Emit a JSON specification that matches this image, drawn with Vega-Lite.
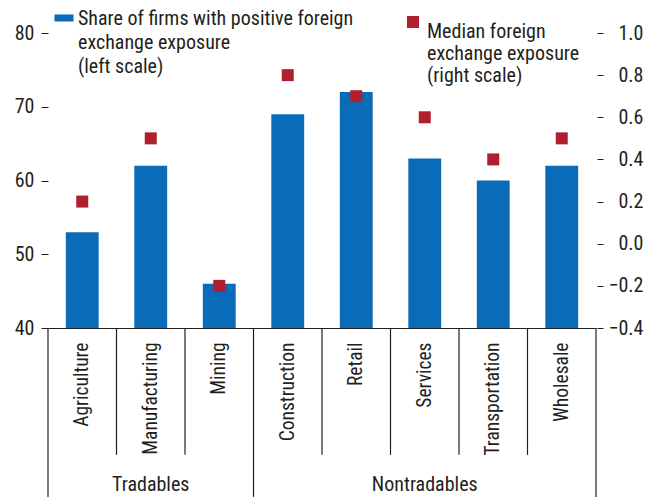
{
  "$schema": "https://vega.github.io/schema/vega-lite/v6.json",
  "width": 548,
  "height": 295,
  "autosize": {"type": "none"},
  "padding": {"left": 48, "top": 33, "right": 52, "bottom": 170},
  "background": "white",
  "config": {
    "font": "Liberation Sans Narrow, Roboto Condensed, Liberation Sans",
    "view": {"stroke": null},
    "axis": {"grid": false, "labelColor": "#231f20", "tickColor": "#231f20", "domainColor": "#231f20", "labelFontSize": 20, "labelFont": "Liberation Sans Narrow, Roboto Condensed, Liberation Sans"},
    "legend": {"labelFont": "Liberation Sans Narrow, Roboto Condensed, Liberation Sans", "labelFontSize": 20, "labelColor": "#231f20", "padding": 0, "labelLimit": 0}
  },
  "datasets": {
    "main": [
      {"sector": "Agriculture", "share": 53, "median": 0.2},
      {"sector": "Manufacturing", "share": 62, "median": 0.5},
      {"sector": "Mining", "share": 46, "median": -0.2},
      {"sector": "Construction", "share": 69, "median": 0.8},
      {"sector": "Retail", "share": 72, "median": 0.7},
      {"sector": "Services", "share": 63, "median": 0.6},
      {"sector": "Transportation", "share": 60, "median": 0.4},
      {"sector": "Wholesale", "share": 62, "median": 0.5}
    ],
    "seps": [
      {"sector": "Agriculture", "top": 40, "bottom": 17.1},
      {"sector": "Manufacturing", "top": 40, "bottom": 22.8},
      {"sector": "Mining", "top": 40, "bottom": 22.8},
      {"sector": "Construction", "top": 40, "bottom": 17.1},
      {"sector": "Retail", "top": 40, "bottom": 22.8},
      {"sector": "Services", "top": 40, "bottom": 22.8},
      {"sector": "Transportation", "top": 40, "bottom": 22.8},
      {"sector": "Wholesale", "top": 40, "bottom": 22.8}
    ],
    "sepEnd": [
      {"sector": "Wholesale", "top": 40, "bottom": 17.1}
    ],
    "groups": [
      {"sector": "Manufacturing", "label": "Tradables", "ypos": 17.9},
      {"sector": "Services", "label": "Nontradables", "ypos": 17.9}
    ]
  },
  "layer": [
    {
      "layer": [
        {
          "data": {"name": "main"},
          "mark": {"type": "bar", "width": {"band": 0.48}},
          "encoding": {
            "x": {"field": "sector", "type": "nominal", "sort": null,
                  "scale": {"domain": ["Agriculture","Manufacturing","Mining","Construction","Retail","Services","Transportation","Wholesale"], "paddingInner": 0, "paddingOuter": 0},
                  "axis": {"title": null, "labelAngle": -90, "ticks": false, "labelPadding": 14, "labelFontSize": 19.5}},
            "y": {"field": "share", "type": "quantitative",
                  "scale": {"domain": [40, 80], "nice": false, "zero": false},
                  "axis": {"title": null, "values": [40, 50, 60, 70, 80], "domain": false, "tickSize": 7, "labelPadding": 7}},
            "y2": {"datum": 40},
            "fill": {"datum": "Share of firms with positive foreign|exchange exposure|(left scale)", "type": "nominal",
                     "scale": {"range": ["#0a6cb9"]},
                     "legend": {"title": null, "orient": "none", "legendX": 6, "legendY": -25,
                                "labelExpr": "split(datum.label, '|')",
                                "symbolType": "M-1,-0.37h2v0.74h-2z", "symbolSize": 361, "symbolStrokeWidth": 0,
                                "labelOffset": 4,
                                "labelBaseline": "top",
                                "encode": {"labels": {"update": {"lineHeight": {"value": 24}, "dy": {"value": -9}}}}}}
          }
        },
        {
          "data": {"name": "seps"},
          "mark": {"type": "rule", "color": "#231f20", "strokeWidth": 1.2},
          "encoding": {
            "x": {"field": "sector", "type": "nominal", "sort": null, "bandPosition": 0,
                  "scale": {"domain": ["Agriculture","Manufacturing","Mining","Construction","Retail","Services","Transportation","Wholesale"]}},
            "y": {"field": "top", "type": "quantitative", "scale": {"domain": [40, 80], "nice": false, "zero": false},
                  "axis": {"title": null, "values": [40, 50, 60, 70, 80], "domain": false, "tickSize": 7, "labelPadding": 7}},
            "y2": {"field": "bottom"}
          }
        },
        {
          "data": {"name": "sepEnd"},
          "mark": {"type": "rule", "color": "#231f20", "strokeWidth": 1.2},
          "encoding": {
            "x": {"field": "sector", "type": "nominal", "sort": null, "bandPosition": 1,
                  "scale": {"domain": ["Agriculture","Manufacturing","Mining","Construction","Retail","Services","Transportation","Wholesale"]}},
            "y": {"field": "top", "type": "quantitative", "scale": {"domain": [40, 80], "nice": false, "zero": false},
                  "axis": {"title": null, "values": [40, 50, 60, 70, 80], "domain": false, "tickSize": 7, "labelPadding": 7}},
            "y2": {"field": "bottom"}
          }
        },
        {
          "data": {"name": "groups"},
          "mark": {"type": "text", "fontSize": 20, "baseline": "alphabetic", "align": "center", "color": "#231f20"},
          "encoding": {
            "x": {"field": "sector", "type": "nominal", "sort": null,
                  "scale": {"domain": ["Agriculture","Manufacturing","Mining","Construction","Retail","Services","Transportation","Wholesale"]}},
            "y": {"field": "ypos", "type": "quantitative", "scale": {"domain": [40, 80], "nice": false, "zero": false},
                  "axis": {"title": null, "values": [40, 50, 60, 70, 80], "domain": false, "tickSize": 7, "labelPadding": 7}},
            "text": {"field": "label"}
          }
        }
      ]
    },
    {
      "data": {"name": "main"},
      "mark": {"type": "square", "size": 144, "opacity": 1, "filled": true},
      "encoding": {
        "x": {"field": "sector", "type": "nominal", "sort": null,
              "scale": {"domain": ["Agriculture","Manufacturing","Mining","Construction","Retail","Services","Transportation","Wholesale"]}},
        "y": {"field": "median", "type": "quantitative",
              "scale": {"domain": [-0.4, 1.0], "nice": false, "zero": false},
              "axis": {"title": null, "orient": "right", "values": [-0.4, -0.2, 0, 0.2, 0.4, 0.6, 0.8, 1.0], "format": ".1f", "domain": false, "tickSize": 6, "offset": 1, "labelAlign": "right", "labelPadding": 40}},
        "color": {"datum": "Median foreign|exchange exposure|(right scale)", "type": "nominal",
                  "scale": {"range": ["#b01f2e"]},
                  "legend": {"title": null, "orient": "none", "legendX": 355, "legendY": -21,
                             "labelExpr": "split(datum.label, '|')",
                             "symbolType": "square", "symbolSize": 144, "symbolStrokeWidth": 0,
                             "labelOffset": 4,
                             "labelBaseline": "top",
                             "encode": {"labels": {"update": {"lineHeight": {"value": 24}, "dy": {"value": -9}}}}}}
      }
    }
  ],
  "resolve": {"scale": {"y": "independent"}}
}
